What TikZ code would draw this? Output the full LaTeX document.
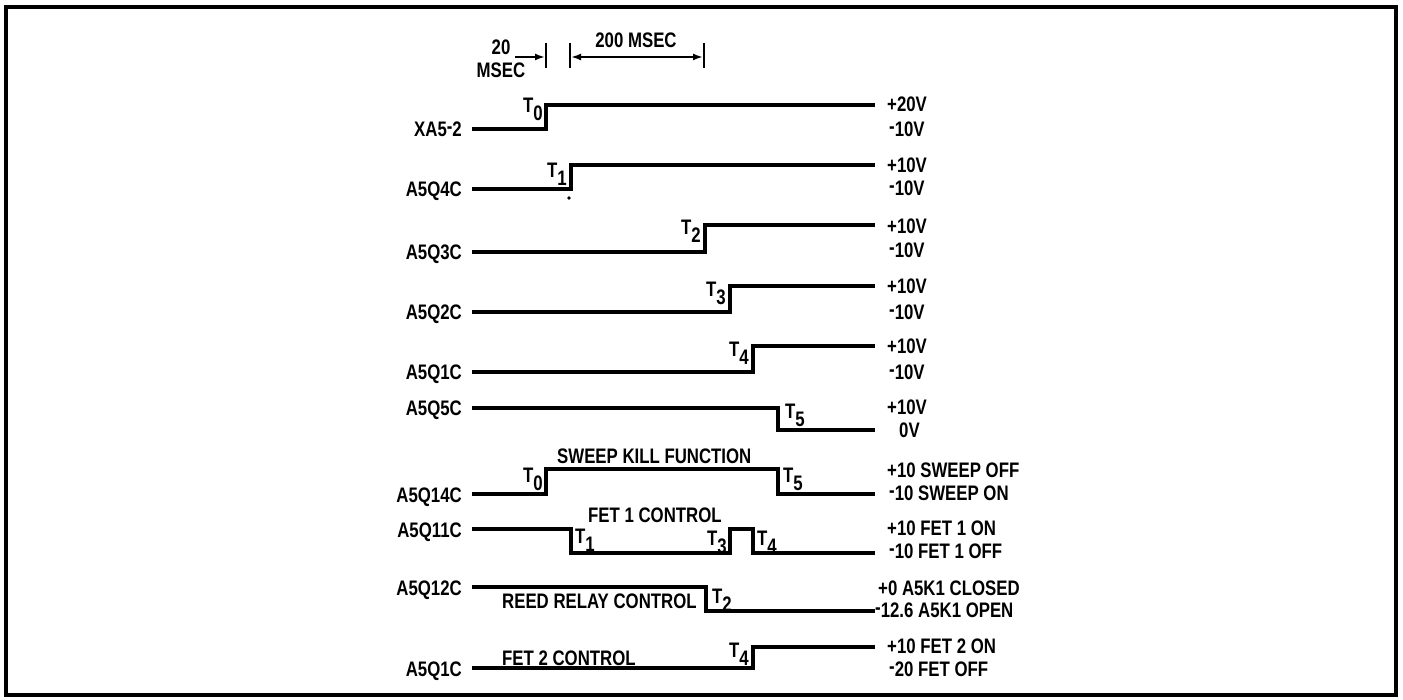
\documentclass[tikz,border=0pt]{standalone}
\usepackage{fontspec}
\newfontfamily\lblfont{Liberation Sans}[FakeStretch=0.8]
\usetikzlibrary{arrows.meta}
\newcommand\mns{\raisebox{3pt}{-}}
\newcommand\Tsb[1]{T\raisebox{-8pt}{#1}}
\begin{document}
\begin{tikzpicture}[x=1pt,y=-1pt,
  sig/.style={line width=3.1pt, line join=miter},
  frm/.style={line width=3.4pt},
  txt/.style={inner sep=0pt, font=\lblfont\bfseries\fontsize{21}{24}\selectfont},
  lbl/.style={txt, anchor=base east},
  vlab/.style={txt, anchor=base west},
  tl/.style={txt, anchor=base east},
  tr/.style={txt, anchor=base west},
  dim/.style={line width=2.4pt},
  dimarrow/.style={line width=2.4pt, -{Latex[length=10pt,width=7pt]}},
  dimboth/.style={line width=2.4pt, {Latex[length=10pt,width=7pt]}-{Latex[length=10pt,width=7pt]}}]
\useasboundingbox (0,0) rectangle (1403,700);
\fill[white] (0,0) rectangle (1403,700);
\draw[frm] (6,7) rectangle (1396,695);

% ---- time scale at the top ----
\node[txt, anchor=base] (n20) at (501,55) {20};
\node[txt, anchor=base] (nms) at (501,78) {MSEC};
\node[txt, anchor=base] (n200) at (636,48) {200 MSEC};
\coordinate (b0t) at (546,43); \coordinate (b0b) at (546,68);
\coordinate (b1t) at (570,43); \coordinate (b1b) at (570,68);
\coordinate (b2t) at (704,43); \coordinate (b2b) at (704,68);
\coordinate (a0s) at (515,57); \coordinate (a0e) at (545,57);
\coordinate (a1s) at (571,57); \coordinate (a1e) at (703,57);
\draw[dim] (b0t) -- (b0b);
\draw[dim] (b1t) -- (b1b);
\draw[dim] (b2t) -- (b2b);
\draw[dimarrow] (a0s) -- (a0e);
\draw[dimboth] (a1s) -- (a1e);

% ---- signal names ----
\node[lbl] (s1) at (462,137) {XA5\mns2};
\node[lbl] (s2) at (462,197) {A5Q4C};
\node[lbl] (s3) at (462,260) {A5Q3C};
\node[lbl] (s4) at (462,320) {A5Q2C};
\node[lbl] (s5) at (462,380) {A5Q1C};
\node[lbl] (s6) at (462,416) {A5Q5C};
\node[lbl] (s7) at (462,502) {A5Q14C};
\node[lbl] (s8) at (462,537) {A5Q11C};
\node[lbl] (s9) at (462,595) {A5Q12C};
\node[lbl] (s10) at (462,676) {A5Q1C};

% ---- waveforms ----
\draw[sig] (472,129) -- (546,129) -- (546,105) -- (875,105);
\draw[sig] (472,189) -- (571,189) -- (571,165) -- (875,165);
\fill (569,198) circle (1.8);
\draw[sig] (472,252) -- (705,252) -- (705,225) -- (875,225);
\draw[sig] (472,312) -- (730,312) -- (730,286) -- (875,286);
\draw[sig] (472,372) -- (753,372) -- (753,346) -- (875,346);
\draw[sig] (472,408) -- (778,408) -- (778,430) -- (875,430);
\draw[sig] (472,494) -- (546,494) -- (546,469) -- (778,469) -- (778,494) -- (875,494);
\draw[sig] (472,529) -- (571,529) -- (571,553) -- (730,553) -- (730,529) -- (753,529) -- (753,553) -- (875,553);
\draw[sig] (472,587) -- (706,587) -- (706,611) -- (875,611);
\draw[sig] (472,668) -- (753,668) -- (753,647) -- (875,647);

% ---- time marks ----
\node[tl] (t01) at (543,113) {\Tsb{0}};
\node[tl] (t11) at (567,178) {\Tsb{1}};
\node[tl] (t21) at (701,235) {\Tsb{2}};
\node[tl] (t31) at (726,297) {\Tsb{3}};
\node[tl] (t41) at (749,357) {\Tsb{4}};
\node[tr] (t51) at (785,418) {\Tsb{5}};
\node[tl] (t02) at (543,482) {\Tsb{0}};
\node[tr] (t52) at (783,482) {\Tsb{5}};
\node[tr] (t12) at (575,543) {\Tsb{1}};
\node[tl] (t32) at (727,545) {\Tsb{3}};
\node[tr] (t42) at (757,545) {\Tsb{4}};
\node[tr] (t22) at (712,603) {\Tsb{2}};
\node[tl] (t43) at (749,657) {\Tsb{4}};

% ---- function names ----
\node[txt, anchor=base west] (f1) at (557,463) {SWEEP KILL FUNCTION};
\node[txt, anchor=base west] (f2) at (588,522) {FET 1 CONTROL};
\node[txt, anchor=base west] (f3) at (502,608) {REED RELAY CONTROL};
\node[txt, anchor=base west] (f4) at (502,665) {FET 2 CONTROL};

% ---- levels ----
\node[vlab] (v1a) at (887,112) {+20V};
\node[vlab] (v1b) at (889,137) {\mns10V};
\node[vlab] (v2a) at (887,173) {+10V};
\node[vlab] (v2b) at (889,196) {\mns10V};
\node[vlab] (v3a) at (887,234) {+10V};
\node[vlab] (v3b) at (889,258) {\mns10V};
\node[vlab] (v4a) at (887,294) {+10V};
\node[vlab] (v4b) at (889,320) {\mns10V};
\node[vlab] (v5a) at (887,354) {+10V};
\node[vlab] (v5b) at (889,380) {\mns10V};
\node[vlab] (v6a) at (887,415) {+10V};
\node[vlab] (v6b) at (899,438) {0V};
\node[vlab] (v7a) at (887,477) {+10 SWEEP OFF};
\node[vlab] (v7b) at (889,500) {\mns10 SWEEP ON};
\node[vlab] (v8a) at (887,535) {+10 FET 1 ON};
\node[vlab] (v8b) at (889,558) {\mns10 FET 1 OFF};
\node[vlab] (v9a) at (878,595) {+0 A5K1 CLOSED};
\node[vlab] (v9b) at (875,617) {\mns12.6 A5K1 OPEN};
\node[vlab] (v10a) at (887,653) {+10 FET 2 ON};
\node[vlab] (v10b) at (889,676) {\mns20 FET OFF};
\end{tikzpicture}
\end{document}
